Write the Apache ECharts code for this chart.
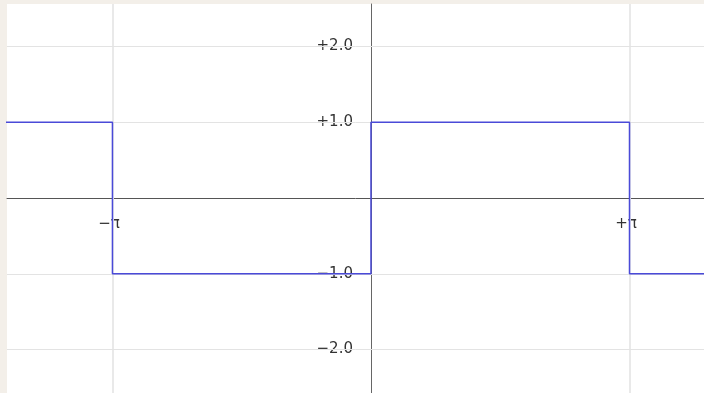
<!DOCTYPE html>
<html>
<head>
<meta charset="utf-8">
<script src="https://cdn.jsdelivr.net/npm/echarts@6/dist/echarts.min.js"></script>
<style>
  html, body { margin: 0; padding: 0; background: #f3efe9; }
  #chart { width: 704px; height: 393px; }
</style>
</head>
<body>
<div id="chart"></div>
<script>
// square wave sign(sin x), drawn as corners
const PI = Math.PI;
const waveX = [-5, -PI, -PI, 0, 0, PI, PI, 5];
const waveY = [1, 1, -1, -1, 1, 1, -1, -1];
// ticks
const xTicks = [-PI, PI];
const xTickLabels = ["−π", "+π"];
const yTicks = [-2, -1, 1, 2];
const yTickLabels = ["−2.0", "−1.0", "+1.0", "+2.0"];
// visible window
const xRange = [-4.423, 4.047];
const yRange = [-2.574, 2.561];

let chart = echarts.init(document.getElementById("chart"));
let waveData = [];
for (var i = 0; i < waveX.length; i++) {
  waveData.push([waveX[i], waveY[i]]);
}
let gridLines = [];
for (var i = 0; i < xTicks.length; i++) {
  gridLines.push({ xAxis: xTicks[i], lineStyle: { color: "#e9e9e9", width: 2 } });
}
for (var i = 0; i < yTicks.length; i++) {
  gridLines.push({ yAxis: yTicks[i], lineStyle: { color: "#e3e3e3", width: 1 } });
}

// axes cross at the origin: shift them into the grid
let gridLeft = 7, gridTop = 4;
let gridW = 704 - gridLeft, gridH = 393 - gridTop;
let yAxisOffset = -gridW * (0 - xRange[0]) / (xRange[1] - xRange[0]);
let xAxisOffset = -gridH * (0 - yRange[0]) / (yRange[1] - yRange[0]);

let labelFont = { fontFamily: "DejaVu Sans", fontSize: 15, color: "#333" };

let option = {
  animation: false,
  backgroundColor: "#f3efe9",
  grid: {
    left: gridLeft, top: gridTop, right: 0, bottom: 0,
    containLabel: false,
    outerBoundsMode: "none",
    show: true, backgroundColor: "#fff", borderWidth: 0
  },
  xAxis: {
    type: "value",
    position: "bottom",
    offset: xAxisOffset,
    min: xRange[0],
    max: xRange[1],
    axisLine: { onZero: false, lineStyle: { color: "#555", width: 1 } },
    axisTick: { show: true, customValues: xTicks, length: 4, lineStyle: { color: "#555" } },
    splitLine: { show: false },
    axisLabel: Object.assign({
      customValues: xTicks,
      margin: 19,
      padding: [0, 7, 0, 0],
      formatter: function(v) {
        return v < 0 ? xTickLabels[0] : xTickLabels[1];
      }
    }, labelFont)
  },
  yAxis: {
    type: "value",
    position: "left",
    offset: yAxisOffset,
    min: yRange[0],
    max: yRange[1],
    axisLine: { onZero: false, lineStyle: { color: "#666", width: 1 } },
    axisTick: { show: true, customValues: yTicks, length: 4, lineStyle: { color: "#555" } },
    splitLine: { show: false },
    axisLabel: Object.assign({
      customValues: yTicks,
      margin: 18,
      formatter: function(v) {
        return yTickLabels[yTicks.indexOf(Math.round(v))];
      }
    }, labelFont)
  },
  series: [
    {
      // grid lines
      type: "line",
      data: [],
      z: 1,
      silent: true,
      markLine: {
        silent: true,
        symbol: "none",
        label: { show: false },
        lineStyle: { type: "solid" },
        data: gridLines
      }
    },
    {
      type: "line",
      data: waveData,
      z: 5,
      symbol: "none",
      lineStyle: { color: "#4a4ad8", width: 1.5 }
    }
  ]
};
chart.setOption(option);
window.addEventListener("resize", () => {
  chart.resize();
});
</script>
</body>
</html>
